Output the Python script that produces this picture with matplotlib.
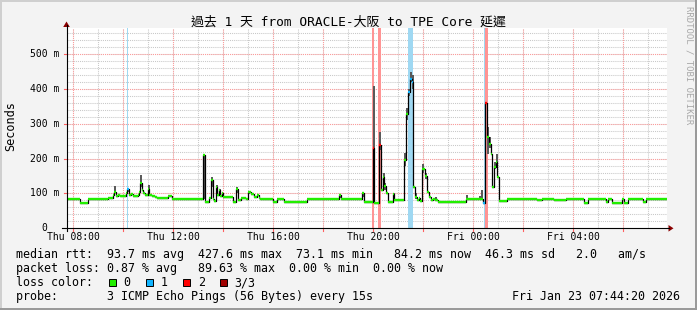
import matplotlib
matplotlib.use("Agg")
import matplotlib.pyplot as plt
from matplotlib import transforms
from matplotlib.patches import Rectangle, Polygon
from matplotlib.lines import Line2D

# ---------------- data ----------------
T_START = 7.739   # Thu 07:44:20 (hours since Thu 00:00)
T_END = 31.739    # Fri 07:44:20
STEP = 0.083      # 5 minute rrd step (hours)

# median rtt steps: start time (h), value (ms), loss level (0..3)
med_t = [7.74, 8.28, 8.60, 9.38, 9.58, 9.64, 9.70, 9.78, 9.86, 9.98,
         10.10, 10.16, 10.22, 10.30, 10.38, 10.58, 10.62, 10.68, 10.74, 10.80,
         10.86, 10.98, 11.04, 11.14, 11.26, 11.34, 11.42, 11.78, 11.94, 13.18,
         13.26, 13.42, 13.50, 13.58, 13.64, 13.70, 13.76, 13.82, 13.88, 13.94,
         14.00, 14.38, 14.50, 14.58, 14.70, 14.90, 14.98, 15.10, 15.22, 15.34,
         15.42, 15.46, 15.98, 16.14, 16.42, 17.34, 18.64, 18.70, 19.56, 19.62,
         19.98, 20.04, 20.24, 20.32, 20.38, 20.44, 20.50, 20.58, 20.78, 20.84,
         21.22, 21.30, 21.38, 21.46, 21.54, 21.60, 21.66, 21.74, 21.82, 21.88,
         21.96, 22.06, 22.14, 22.22, 22.30, 22.38, 22.46, 22.58, 23.70, 24.38,
         24.48, 24.54, 24.62, 24.70, 24.76, 24.82, 24.90, 24.96, 25.03, 25.36,
         26.57, 26.77, 27.22, 27.70, 28.42, 28.58, 29.30, 29.38, 29.57, 29.97,
         30.02, 30.18, 30.78, 30.90]
med_v = [84, 73, 84, 87, 95, 105, 92, 96, 92, 94,
         100, 112, 95, 98, 93, 95, 104, 129, 110, 100,
         96, 112, 96, 93, 90, 88, 86, 94, 84, 209,
         76, 88, 138, 84, 78, 119, 95, 110, 92, 100,
         90, 76, 112, 82, 86, 84, 105, 98, 90, 95,
         88, 84, 75, 84, 74, 84, 95, 84, 100, 74,
         229, 73, 238, 109, 147, 120, 100, 74, 99, 80,
         195, 329, 390, 428, 420, 119, 90, 80, 88, 78,
         170, 150, 103, 90, 80, 85, 80, 74, 84, 72,
         358, 262, 243, 214, 119, 176, 190, 147, 79, 84,
         81, 84, 81, 84, 73, 84, 75, 84, 73, 84,
         73, 84, 75, 84]
med_loss = [0, 0, 0, 0, 0, 0, 0, 0, 0, 0,
            0, 1, 0, 0, 0, 0, 0, 0, 0, 0,
            0, 0, 0, 0, 0, 0, 0, 0, 0, 0,
            0, 0, 0, 0, 0, 0, 0, 0, 0, 0,
            0, 0, 0, 0, 0, 0, 0, 0, 0, 0,
            0, 0, 0, 0, 0, 0, 0, 0, 0, 0,
            2, 0, 2, 0, 0, 0, 0, 0, 0, 0,
            0, 0, 1, 1, 1, 0, 0, 0, 0, 0,
            0, 0, 0, 0, 0, 0, 0, 0, 0, 1,
            2, 0, 0, 0, 0, 0, 0, 0, 0, 0,
            0, 0, 0, 0, 0, 0, 0, 0, 0, 0,
            0, 0, 0, 0]

# smoke (ping spread) bars: time, low, high (ms)
smoke_t = [9.64, 10.16, 10.68, 10.98, 13.18, 13.50, 13.70, 13.82, 14.50, 14.98,
           18.64, 19.56, 19.98, 20.24, 20.38, 20.44, 20.78, 21.22, 21.30, 21.38,
           21.46, 21.54, 21.66, 21.96, 22.06, 22.46, 23.70, 24.22, 24.30, 24.54,
           24.62, 24.82, 24.90]
smoke_lo = [100, 105, 118, 105, 84, 118, 100, 95, 100, 98,
            88, 90, 73, 225, 130, 110, 90, 180, 310, 380,
            420, 400, 85, 160, 140, 80, 84, 84, 84, 214,
            230, 170, 190]
smoke_hi = [121, 115, 152, 124, 212, 147, 125, 112, 118, 108,
            98, 100, 409, 276, 160, 130, 100, 215, 345, 400,
            447, 440, 100, 185, 160, 90, 95, 92, 109, 290,
            262, 190, 214]

# loss background spans: start, end (h), loss level
span_t0 = [10.15, 19.96, 20.21, 21.41, 21.57, 24.43, 24.46]
span_t1 = [10.21, 20.02, 20.33, 21.54, 21.61, 24.46, 24.58]
span_loss = [1, 2, 2, 1, 1, 1, 2]

x_ticks = [8, 12, 16, 20, 24, 28]
x_labels = ["Thu 08:00", "Thu 12:00", "Thu 16:00", "Thu 20:00", "Fri 00:00", "Fri 04:00"]
y_ticks = [0, 100, 200, 300, 400, 500]
y_labels = ["0  ", "100 m", "200 m", "300 m", "400 m", "500 m"]
Y_MAX = 574.5

loss_colors = ["#22ee00", "#10b4ff", "#ff0000", "#a00000"]
loss_labels = ["0", "1", "2", "3/3"]
span_colors = {1: "#9fd8f2", 2: "#ff9494"}

title = "過去 1 天 from ORACLE-大阪 to TPE Core 延遲"
line_rtt = "median rtt:  93.7 ms avg  427.6 ms max  73.1 ms min   84.2 ms now  46.3 ms sd   2.0   am/s"
line_loss = "packet loss: 0.87 % avg   89.63 % max  0.00 % min  0.00 % now"
line_probe = "probe:       3 ICMP Echo Pings (56 Bytes) every 15s"
stamp_text = "Fri Jan 23 07:44:20 2026"

# ---------------- drawing ----------------
W, H = 697, 310
MONO = ["DejaVu Sans Mono", "Noto Sans CJK TC"]
FS = 8.4      # legend text
FS_AX = 7.0   # axis tick labels
plt.rcParams["font.family"] = MONO

fig = plt.figure(figsize=(W / 100, H / 100), dpi=100)
fig.patch.set_facecolor("#f3f3f3")
px = transforms.Affine2D().scale(1 / W, -1 / H).translate(0, 1) + fig.transFigure

X0, X1, YT, YB = 66.5, 666.5, 28.0, 228.3
ax = fig.add_axes([X0 / W, 1 - YB / H, (X1 - X0) / W, (YB - YT) / H])
ax.set_xlim(T_START, T_END)
ax.set_ylim(0, Y_MAX)
ax.set_facecolor("white")
for s in ax.spines.values():
    s.set_visible(False)
ax.set_xticks([])
ax.set_yticks([])

dot = (0, (1, 1))
# minor grid
h = 8
while h < T_END:
    ax.axvline(h, color="#c8c8c8", lw=0.75, ls=dot, zorder=0)
    h += 1
v = 20
while v < Y_MAX:
    ax.axhline(v, color="#c8c8c8", lw=0.75, ls=dot, zorder=0)
    v += 20
# major grid
h = 8
while h < T_END:
    ax.axvline(h, color="#ff9a9a", lw=0.75, ls=dot, zorder=0.5)
    h += 2
for v in y_ticks[1:]:
    ax.axhline(v, color="#ff9a9a", lw=0.75, ls=dot, zorder=0.5)

# loss spans
for a, b, l in zip(span_t0, span_t1, span_loss):
    ax.axvspan(a, b, color=span_colors[l], lw=0, zorder=1)

# smoke
ax.bar(smoke_t, [hi - lo for lo, hi in zip(smoke_lo, smoke_hi)], bottom=smoke_lo,
       width=STEP, align="edge", color="#5a5a5a", lw=0, zorder=2)

# median: black connecting step line + loss coloured segments
ends = med_t[1:] + [T_END]
ax.step(med_t + [T_END], med_v + [med_v[-1]], where="post", color="black", lw=0.9, zorder=3)
for lvl, col in enumerate(loss_colors):
    idx = [i for i, l in enumerate(med_loss) if l == lvl]
    if idx:
        ax.hlines([med_v[i] for i in idx], [med_t[i] for i in idx], [ends[i] for i in idx],
                  colors=col, lw=1.7, zorder=4)

# small axis ticks outside the plot area
xt_tr = transforms.blended_transform_factory(ax.transData, px)
h = 8
while h < T_END:
    fig.add_artist(Line2D([h, h], [YB, YB + 3], transform=xt_tr, color="#ff6060", lw=0.8))
    h += 2
yt_tr = transforms.blended_transform_factory(px, ax.transData)
for v in y_ticks[1:]:
    fig.add_artist(Line2D([X0 - 3, X0], [v, v], transform=yt_tr, color="#ff6060", lw=0.8))

# axes lines and arrows
fig.add_artist(Line2D([62, 669], [YB, YB], transform=px, color="black", lw=0.8))
fig.add_artist(Line2D([X0, X0], [231, 25], transform=px, color="black", lw=0.8))
fig.add_artist(Polygon([[668.5, 225], [668.5, 231.6], [673.5, 228.3]], closed=True,
                       transform=px, color="#8b0000", lw=0))
fig.add_artist(Polygon([[63.2, 27], [69.8, 27], [66.5, 21.5]], closed=True,
                       transform=px, color="#8b0000", lw=0))

# tick labels
for t, s in zip(x_ticks, x_labels):
    ax.text(t, 240, s, transform=xt_tr, ha="center", va="baseline", fontsize=FS_AX)
for v, s in zip(y_ticks, y_labels):
    ax.text(59.5, v, s, transform=yt_tr, ha="right", va="center", fontsize=FS_AX)

# title, axis label, watermark
fig.text(348, 26, title, transform=px, ha="center", va="baseline", fontsize=9.3)
fig.text(11, 126, "Seconds", transform=px, ha="center", va="center", rotation=90, fontsize=8.6)
fig.text(688.5, 65, "RRDTOOL / TOBI OETIKER", transform=px, ha="center", va="center",
         rotation=270, fontsize=6.5, color="#a8a8a8")

# legend / stats
fig.text(16, 258, line_rtt, transform=px, ha="left", va="baseline", fontsize=FS)
fig.text(16, 272, line_loss, transform=px, ha="left", va="baseline", fontsize=FS)
fig.text(16, 286, "loss color:", transform=px, ha="left", va="baseline", fontsize=FS)
sq_x = [108.5, 145.8, 182.8, 219.5]
for i, (col, lab) in enumerate(zip(loss_colors, loss_labels)):
    fig.add_artist(Rectangle((sq_x[i], 286), 7.5, -7.5, transform=px, facecolor=col,
                             edgecolor="black", lw=0.7))
    fig.text(sq_x[i] + 15, 286, lab, transform=px, ha="left", va="baseline", fontsize=FS)
fig.text(16, 300, line_probe, transform=px, ha="left", va="baseline", fontsize=FS)
fig.text(680, 300, stamp_text, transform=px, ha="right", va="baseline", fontsize=FS)

# 3D frame
fig.add_artist(Rectangle((0, 0), W, 2, transform=px, color="#cfcfcf", lw=0))
fig.add_artist(Rectangle((0, 0), 2, H, transform=px, color="#cfcfcf", lw=0))
fig.add_artist(Rectangle((0, H - 2), W, 2, transform=px, color="#9a9a9a", lw=0))
fig.add_artist(Rectangle((W - 2, 0), 2, H, transform=px, color="#9a9a9a", lw=0))

fig.savefig("out.png", dpi=100, facecolor=fig.get_facecolor())
